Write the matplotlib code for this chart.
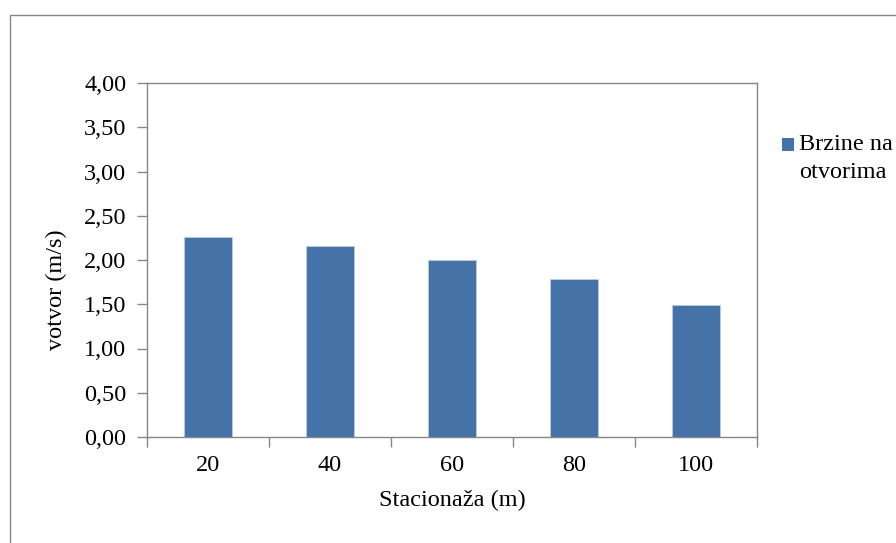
import matplotlib.pyplot as plt
from matplotlib.patches import Rectangle
from matplotlib.ticker import FixedLocator

# podaci
stacionaza = ['20', '40', '60', '80', '100']
brzine = [2.26, 2.155, 2.00, 1.79, 1.49]
y_ticks = [0.0, 0.5, 1.0, 1.5, 2.0, 2.5, 3.0, 3.5, 4.0]
y_labels = ['0,00', '0,50', '1,00', '1,50', '2,00', '2,50', '3,00', '3,50', '4,00']

plt.rcParams['font.family'] = ['Liberation Serif', 'DejaVu Serif']
gray = '#868686'
bar_color = '#4572A7'
fs = 17.5

W, H = 896, 543
fig = plt.figure(figsize=(W / 100, H / 100), dpi=100)
ax = fig.add_axes([147 / W, 1 - 437 / H, 610 / W, 354 / H])

x = list(range(len(stacionaza)))
ax.bar(x, brzine, width=0.4, color=bar_color, edgecolor='#B9CDE5', linewidth=0.6)

ax.set_xlim(-0.5, len(stacionaza) - 0.5)
ax.set_ylim(0, 4)
ax.set_yticks(y_ticks)
ax.set_yticklabels(y_labels, fontsize=fs)
ax.set_xticks(x)
ax.set_xticklabels(stacionaza, fontsize=fs)
ax.xaxis.set_minor_locator(FixedLocator([i - 0.5 for i in range(len(stacionaza) + 1)]))
ax.tick_params(axis='x', which='major', length=0, pad=13)
ax.tick_params(axis='x', which='minor', length=7, color=gray, width=1)
ax.tick_params(axis='y', length=7, color=gray, width=1, pad=8)

for s in ax.spines.values():
    s.set_color(gray)
    s.set_linewidth(1)

ax.set_ylabel('votvor (m/s)', fontsize=fs, va='center')
ax.yaxis.set_label_coords((56 - 147) / 610, (437 - 290) / 354)
ax.set_xlabel('Stacionaža (m)', fontsize=fs, va='center')
ax.xaxis.set_label_coords(0.5, -(500 - 437) / 354)

# okvir grafikona
fig.patches.append(Rectangle((10 / W, -0.1), 1.2, 1 - 15 / H + 0.1, transform=fig.transFigure,
                             fill=False, edgecolor=gray, linewidth=1, clip_on=False))

# legenda
fig.patches.append(Rectangle((782 / W, 1 - 151 / H), 12 / W, 13 / H, transform=fig.transFigure,
                             facecolor=bar_color, edgecolor='none'))
fig.text(799 / W, 1 - 145 / H, 'Brzine na', fontsize=fs, va='center', ha='left')
fig.text(799 / W, 1 - 172 / H, 'otvorima', fontsize=fs, va='center', ha='left')

plt.savefig('out.png', dpi=100)
